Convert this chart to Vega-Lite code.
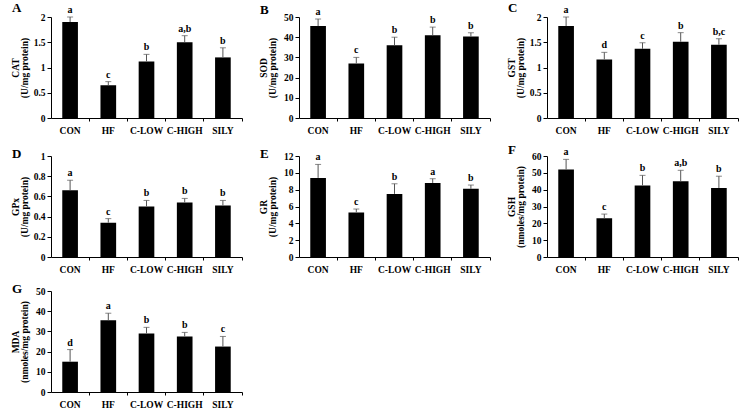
{
  "$schema": "https://vega.github.io/schema/vega-lite/v6.json",
  "padding": {"left": 10, "top": 2, "right": 0, "bottom": 0},
  "background": "white",
  "data": {"values": [
    {"panel": "A", "group": "CON", "mean": 1.9, "upper": 2.0, "letter": "a"},
    {"panel": "A", "group": "HF", "mean": 0.65, "upper": 0.72, "letter": "c"},
    {"panel": "A", "group": "C-LOW", "mean": 1.12, "upper": 1.26, "letter": "b"},
    {"panel": "A", "group": "C-HIGH", "mean": 1.5, "upper": 1.63, "letter": "a,b"},
    {"panel": "A", "group": "SILY", "mean": 1.2, "upper": 1.39, "letter": "b"},
    {"panel": "B", "group": "CON", "mean": 45.5, "upper": 49, "letter": "a"},
    {"panel": "B", "group": "HF", "mean": 27, "upper": 30, "letter": "c"},
    {"panel": "B", "group": "C-LOW", "mean": 36, "upper": 40, "letter": "b"},
    {"panel": "B", "group": "C-HIGH", "mean": 41, "upper": 45, "letter": "b"},
    {"panel": "B", "group": "SILY", "mean": 40.3, "upper": 42.2, "letter": "b"},
    {"panel": "C", "group": "CON", "mean": 1.82, "upper": 2.0, "letter": "a"},
    {"panel": "C", "group": "HF", "mean": 1.16, "upper": 1.3, "letter": "d"},
    {"panel": "C", "group": "C-LOW", "mean": 1.37, "upper": 1.49, "letter": "c"},
    {"panel": "C", "group": "C-HIGH", "mean": 1.51, "upper": 1.69, "letter": "b"},
    {"panel": "C", "group": "SILY", "mean": 1.45, "upper": 1.57, "letter": "b,c"},
    {"panel": "D", "group": "CON", "mean": 0.66, "upper": 0.76, "letter": "a"},
    {"panel": "D", "group": "HF", "mean": 0.34, "upper": 0.38, "letter": "c"},
    {"panel": "D", "group": "C-LOW", "mean": 0.5, "upper": 0.56, "letter": "b"},
    {"panel": "D", "group": "C-HIGH", "mean": 0.54, "upper": 0.58, "letter": "b"},
    {"panel": "D", "group": "SILY", "mean": 0.51, "upper": 0.56, "letter": "b"},
    {"panel": "E", "group": "CON", "mean": 9.4, "upper": 11.0, "letter": "a"},
    {"panel": "E", "group": "HF", "mean": 5.3, "upper": 5.7, "letter": "c"},
    {"panel": "E", "group": "C-LOW", "mean": 7.5, "upper": 8.7, "letter": "b"},
    {"panel": "E", "group": "C-HIGH", "mean": 8.8, "upper": 9.3, "letter": "a"},
    {"panel": "E", "group": "SILY", "mean": 8.1, "upper": 8.55, "letter": "b"},
    {"panel": "F", "group": "CON", "mean": 52, "upper": 58, "letter": "a"},
    {"panel": "F", "group": "HF", "mean": 23, "upper": 25.5, "letter": "c"},
    {"panel": "F", "group": "C-LOW", "mean": 42.5, "upper": 48.5, "letter": "b"},
    {"panel": "F", "group": "C-HIGH", "mean": 45, "upper": 51.5, "letter": "a,b"},
    {"panel": "F", "group": "SILY", "mean": 41, "upper": 48, "letter": "b"},
    {"panel": "G", "group": "CON", "mean": 15, "upper": 21, "letter": "d"},
    {"panel": "G", "group": "HF", "mean": 35.5, "upper": 39, "letter": "a"},
    {"panel": "G", "group": "C-LOW", "mean": 29, "upper": 32, "letter": "b"},
    {"panel": "G", "group": "C-HIGH", "mean": 27.5, "upper": 29.5, "letter": "b"},
    {"panel": "G", "group": "SILY", "mean": 22.5, "upper": 27.5, "letter": "c"}
  ]},
  "columns": 3,
  "spacing": {"row": 9, "column": 15},
  "concat": [
    {"title": {"text": "A"}, "transform": [{"filter": "datum.panel === 'A'"}], "width": 191, "height": 101,
     "encoding": {"x": {"field": "group", "type": "nominal", "sort": ["CON","HF","C-LOW","C-HIGH","SILY"], "scale": {"paddingInner": 0, "paddingOuter": 0}, "axis": {"title": null}}},
     "layer": [
      {"mark": {"type": "bar", "width": {"band": 0.41}, "color": "black"}, "encoding": {"y": {"field": "mean", "type": "quantitative", "scale": {"domain": [0, 2]}, "axis": {"values": [0, 0.5, 1, 1.5, 2], "title": ["CAT", "(U/mg protein)"]}}}},
      {"mark": {"type": "rule", "color": "#555", "strokeWidth": 1}, "encoding": {"y": {"field": "mean", "type": "quantitative", "axis": {"values": [0, 0.5, 1, 1.5, 2], "title": ["CAT", "(U/mg protein)"]}}, "y2": {"field": "upper"}}},
      {"mark": {"type": "tick", "color": "#555", "size": 6, "thickness": 1}, "encoding": {"y": {"field": "upper", "type": "quantitative", "axis": {"values": [0, 0.5, 1, 1.5, 2], "title": ["CAT", "(U/mg protein)"]}}}},
      {"mark": {"type": "text", "dy": -4, "baseline": "alphabetic", "fontSize": 10, "fontWeight": "bold", "font": "Liberation Serif"}, "encoding": {"y": {"field": "upper", "type": "quantitative", "axis": {"values": [0, 0.5, 1, 1.5, 2], "title": ["CAT", "(U/mg protein)"]}}, "text": {"field": "letter"}}}
     ]},
    {"title": {"text": "B"}, "transform": [{"filter": "datum.panel === 'B'"}], "width": 191, "height": 101,
     "encoding": {"x": {"field": "group", "type": "nominal", "sort": ["CON","HF","C-LOW","C-HIGH","SILY"], "scale": {"paddingInner": 0, "paddingOuter": 0}, "axis": {"title": null}}},
     "layer": [
      {"mark": {"type": "bar", "width": {"band": 0.41}, "color": "black"}, "encoding": {"y": {"field": "mean", "type": "quantitative", "scale": {"domain": [0, 50]}, "axis": {"values": [0, 10, 20, 30, 40, 50], "title": ["SOD", "(U/mg protein)"]}}}},
      {"mark": {"type": "rule", "color": "#555", "strokeWidth": 1}, "encoding": {"y": {"field": "mean", "type": "quantitative", "axis": {"values": [0, 10, 20, 30, 40, 50], "title": ["SOD", "(U/mg protein)"]}}, "y2": {"field": "upper"}}},
      {"mark": {"type": "tick", "color": "#555", "size": 6, "thickness": 1}, "encoding": {"y": {"field": "upper", "type": "quantitative", "axis": {"values": [0, 10, 20, 30, 40, 50], "title": ["SOD", "(U/mg protein)"]}}}},
      {"mark": {"type": "text", "dy": -4, "baseline": "alphabetic", "fontSize": 10, "fontWeight": "bold", "font": "Liberation Serif"}, "encoding": {"y": {"field": "upper", "type": "quantitative", "axis": {"values": [0, 10, 20, 30, 40, 50], "title": ["SOD", "(U/mg protein)"]}}, "text": {"field": "letter"}}}
     ]},
    {"title": {"text": "C"}, "transform": [{"filter": "datum.panel === 'C'"}], "width": 191, "height": 101,
     "encoding": {"x": {"field": "group", "type": "nominal", "sort": ["CON","HF","C-LOW","C-HIGH","SILY"], "scale": {"paddingInner": 0, "paddingOuter": 0}, "axis": {"title": null}}},
     "layer": [
      {"mark": {"type": "bar", "width": {"band": 0.41}, "color": "black"}, "encoding": {"y": {"field": "mean", "type": "quantitative", "scale": {"domain": [0, 2]}, "axis": {"values": [0, 0.5, 1, 1.5, 2], "title": ["GST", "(U/mg protein)"]}}}},
      {"mark": {"type": "rule", "color": "#555", "strokeWidth": 1}, "encoding": {"y": {"field": "mean", "type": "quantitative", "axis": {"values": [0, 0.5, 1, 1.5, 2], "title": ["GST", "(U/mg protein)"]}}, "y2": {"field": "upper"}}},
      {"mark": {"type": "tick", "color": "#555", "size": 6, "thickness": 1}, "encoding": {"y": {"field": "upper", "type": "quantitative", "axis": {"values": [0, 0.5, 1, 1.5, 2], "title": ["GST", "(U/mg protein)"]}}}},
      {"mark": {"type": "text", "dy": -4, "baseline": "alphabetic", "fontSize": 10, "fontWeight": "bold", "font": "Liberation Serif"}, "encoding": {"y": {"field": "upper", "type": "quantitative", "axis": {"values": [0, 0.5, 1, 1.5, 2], "title": ["GST", "(U/mg protein)"]}}, "text": {"field": "letter"}}}
     ]},
    {"title": {"text": "D"}, "transform": [{"filter": "datum.panel === 'D'"}], "width": 191, "height": 101,
     "encoding": {"x": {"field": "group", "type": "nominal", "sort": ["CON","HF","C-LOW","C-HIGH","SILY"], "scale": {"paddingInner": 0, "paddingOuter": 0}, "axis": {"title": null}}},
     "layer": [
      {"mark": {"type": "bar", "width": {"band": 0.41}, "color": "black"}, "encoding": {"y": {"field": "mean", "type": "quantitative", "scale": {"domain": [0, 1]}, "axis": {"values": [0, 0.2, 0.4, 0.6, 0.8, 1], "title": ["GPx", "(U/mg protein)"]}}}},
      {"mark": {"type": "rule", "color": "#555", "strokeWidth": 1}, "encoding": {"y": {"field": "mean", "type": "quantitative", "axis": {"values": [0, 0.2, 0.4, 0.6, 0.8, 1], "title": ["GPx", "(U/mg protein)"]}}, "y2": {"field": "upper"}}},
      {"mark": {"type": "tick", "color": "#555", "size": 6, "thickness": 1}, "encoding": {"y": {"field": "upper", "type": "quantitative", "axis": {"values": [0, 0.2, 0.4, 0.6, 0.8, 1], "title": ["GPx", "(U/mg protein)"]}}}},
      {"mark": {"type": "text", "dy": -4, "baseline": "alphabetic", "fontSize": 10, "fontWeight": "bold", "font": "Liberation Serif"}, "encoding": {"y": {"field": "upper", "type": "quantitative", "axis": {"values": [0, 0.2, 0.4, 0.6, 0.8, 1], "title": ["GPx", "(U/mg protein)"]}}, "text": {"field": "letter"}}}
     ]},
    {"title": {"text": "E"}, "transform": [{"filter": "datum.panel === 'E'"}], "width": 191, "height": 101,
     "encoding": {"x": {"field": "group", "type": "nominal", "sort": ["CON","HF","C-LOW","C-HIGH","SILY"], "scale": {"paddingInner": 0, "paddingOuter": 0}, "axis": {"title": null}}},
     "layer": [
      {"mark": {"type": "bar", "width": {"band": 0.41}, "color": "black"}, "encoding": {"y": {"field": "mean", "type": "quantitative", "scale": {"domain": [0, 12]}, "axis": {"values": [0, 2, 4, 6, 8, 10, 12], "title": ["GR", "(U/mg protein)"]}}}},
      {"mark": {"type": "rule", "color": "#555", "strokeWidth": 1}, "encoding": {"y": {"field": "mean", "type": "quantitative", "axis": {"values": [0, 2, 4, 6, 8, 10, 12], "title": ["GR", "(U/mg protein)"]}}, "y2": {"field": "upper"}}},
      {"mark": {"type": "tick", "color": "#555", "size": 6, "thickness": 1}, "encoding": {"y": {"field": "upper", "type": "quantitative", "axis": {"values": [0, 2, 4, 6, 8, 10, 12], "title": ["GR", "(U/mg protein)"]}}}},
      {"mark": {"type": "text", "dy": -4, "baseline": "alphabetic", "fontSize": 10, "fontWeight": "bold", "font": "Liberation Serif"}, "encoding": {"y": {"field": "upper", "type": "quantitative", "axis": {"values": [0, 2, 4, 6, 8, 10, 12], "title": ["GR", "(U/mg protein)"]}}, "text": {"field": "letter"}}}
     ]},
    {"title": {"text": "F"}, "transform": [{"filter": "datum.panel === 'F'"}], "width": 191, "height": 101,
     "encoding": {"x": {"field": "group", "type": "nominal", "sort": ["CON","HF","C-LOW","C-HIGH","SILY"], "scale": {"paddingInner": 0, "paddingOuter": 0}, "axis": {"title": null}}},
     "layer": [
      {"mark": {"type": "bar", "width": {"band": 0.41}, "color": "black"}, "encoding": {"y": {"field": "mean", "type": "quantitative", "scale": {"domain": [0, 60]}, "axis": {"values": [0, 10, 20, 30, 40, 50, 60], "title": ["GSH", "(nmoles/mg protein)"]}}}},
      {"mark": {"type": "rule", "color": "#555", "strokeWidth": 1}, "encoding": {"y": {"field": "mean", "type": "quantitative", "axis": {"values": [0, 10, 20, 30, 40, 50, 60], "title": ["GSH", "(nmoles/mg protein)"]}}, "y2": {"field": "upper"}}},
      {"mark": {"type": "tick", "color": "#555", "size": 6, "thickness": 1}, "encoding": {"y": {"field": "upper", "type": "quantitative", "axis": {"values": [0, 10, 20, 30, 40, 50, 60], "title": ["GSH", "(nmoles/mg protein)"]}}}},
      {"mark": {"type": "text", "dy": -4, "baseline": "alphabetic", "fontSize": 10, "fontWeight": "bold", "font": "Liberation Serif"}, "encoding": {"y": {"field": "upper", "type": "quantitative", "axis": {"values": [0, 10, 20, 30, 40, 50, 60], "title": ["GSH", "(nmoles/mg protein)"]}}, "text": {"field": "letter"}}}
     ]},
    {"title": {"text": "G"}, "transform": [{"filter": "datum.panel === 'G'"}], "width": 191, "height": 101,
     "encoding": {"x": {"field": "group", "type": "nominal", "sort": ["CON","HF","C-LOW","C-HIGH","SILY"], "scale": {"paddingInner": 0, "paddingOuter": 0}, "axis": {"title": null}}},
     "layer": [
      {"mark": {"type": "bar", "width": {"band": 0.41}, "color": "black"}, "encoding": {"y": {"field": "mean", "type": "quantitative", "scale": {"domain": [0, 50]}, "axis": {"values": [0, 10, 20, 30, 40, 50], "title": ["MDA", "(nmoles/mg protein)"]}}}},
      {"mark": {"type": "rule", "color": "#555", "strokeWidth": 1}, "encoding": {"y": {"field": "mean", "type": "quantitative", "axis": {"values": [0, 10, 20, 30, 40, 50], "title": ["MDA", "(nmoles/mg protein)"]}}, "y2": {"field": "upper"}}},
      {"mark": {"type": "tick", "color": "#555", "size": 6, "thickness": 1}, "encoding": {"y": {"field": "upper", "type": "quantitative", "axis": {"values": [0, 10, 20, 30, 40, 50], "title": ["MDA", "(nmoles/mg protein)"]}}}},
      {"mark": {"type": "text", "dy": -4, "baseline": "alphabetic", "fontSize": 10, "fontWeight": "bold", "font": "Liberation Serif"}, "encoding": {"y": {"field": "upper", "type": "quantitative", "axis": {"values": [0, 10, 20, 30, 40, 50], "title": ["MDA", "(nmoles/mg protein)"]}}, "text": {"field": "letter"}}}
     ]}
  ],
  "config": {
    "font": "Liberation Serif",
    "view": {"stroke": null},
    "title": {"anchor": "start", "frame": "group", "fontSize": 13, "fontWeight": "bold", "font": "Liberation Serif", "color": "black", "dx": -39, "offset": -10, "baseline": "alphabetic"},
    "axis": {"domainColor": "black", "tickColor": "black", "labelColor": "black", "titleColor": "black", "labelFont": "Liberation Serif", "titleFont": "Liberation Serif", "labelFontWeight": "bold", "titleFontWeight": "bold", "grid": false, "labelFontSize": 9.5, "titleFontSize": 9.5, "labelOverlap": false},
    "axisY": {"tickSize": 4, "labelPadding": 2, "minExtent": 17, "maxExtent": 17, "titlePadding": 5, "titleLineHeight": 8.5, "format": ".3~g"},
    "axisX": {"tickSize": 3, "labelPadding": 4, "bandPosition": 1, "labelAngle": 0, "labelFontSize": 9.5}
  }
}
